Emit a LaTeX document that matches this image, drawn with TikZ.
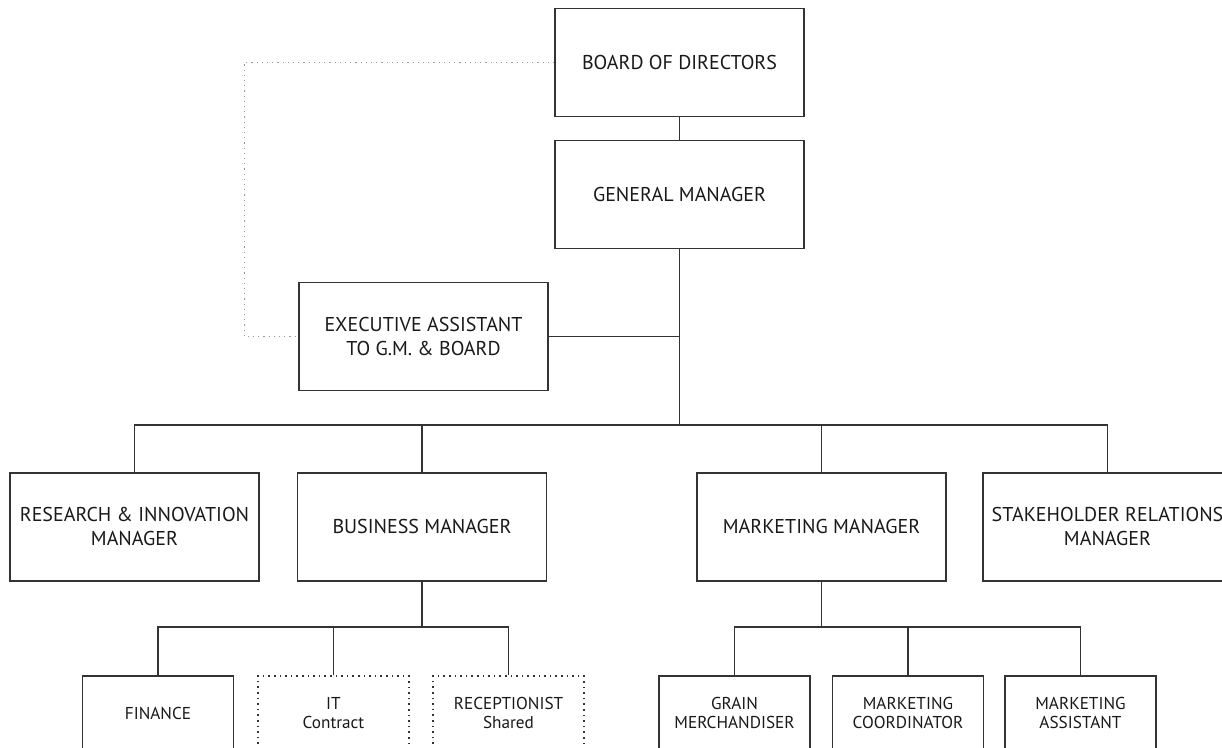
\documentclass[tikz,border=0pt]{standalone}
\usepackage{fontspec}
\setmainfont{PT Sans}
\tikzset{
  post/.style={shape=rectangle,draw=black!80,line width=0.8pt,minimum width=124.5pt,minimum height=54pt,align=center,text=black!90,font=\fontsize{10}{12}\selectfont},
  staff/.style={post,minimum width=75.5pt,minimum height=37pt,font=\fontsize{8.6}{9.5}\selectfont},
  shared/.style={staff,dotted,line width=0.6pt},
  link/.style={draw=black!80,line width=0.8pt},
  dotlink/.style={draw=black!40,line width=0.6pt,dotted}
}
\begin{document}
\begin{tikzpicture}[x=0.5pt,y=-0.5pt]
                    \useasboundingbox (0,0) rectangle (1222,748);
                    \node[post] (BD) at (679.5,62.5) {BOARD OF DIRECTORS};
                    \node[post] (GM) at (679.5,194.5) {GENERAL MANAGER};
                    \node[post] (EA) at (423.5,336.5) {EXECUTIVE ASSISTANT\\TO G.M. \& BOARD};
                    \node[post] (RI) at (134.5,527) {RESEARCH \& INNOVATION\\MANAGER};
                    \node[post] (BM) at (422,527) {BUSINESS MANAGER};
                    \node[post] (MM) at (821.5,527) {MARKETING MANAGER};
                    \node[post] (SR) at (1107.5,527) {STAKEHOLDER RELATIONS\\MANAGER};
                    \node[staff] (FI) at (158,713) {FINANCE};
                    \node[shared] (IT) at (333.5,713) {IT\\Contract};
                    \node[shared] (RC) at (508.5,713) {RECEPTIONIST\\Shared};
                    \node[staff] (GR) at (734.5,713) {GRAIN\\MERCHANDISER};
                    \node[staff] (CO) at (908,713) {MARKETING\\COORDINATOR};
                    \node[staff] (AS) at (1080.5,713) {MARKETING\\ASSISTANT};
                    \coordinate (bar) at (679.5,425);
                    \coordinate (bbar) at (422,627);
                    \coordinate (mbar) at (821.5,627);

                    \draw[link] (BD) -- (GM);
                    \draw[link] (GM) -- (bar);
                    \draw[link] (EA.east) -- (EA.east -| bar);
                    \draw[link] (RI.north) -- (RI.north |- bar) -- (SR.north |- bar) -- (SR.north);
                    \draw[link] (BM.north) -- (BM.north |- bar);
                    \draw[link] (MM.north) -- (MM.north |- bar);
                    \draw[link] (BM) -- (bbar);
                    \draw[link] (FI.north) -- (FI.north |- bbar) -- (RC.north |- bbar) -- (RC.north);
                    \draw[link] (IT.north) -- (IT.north |- bbar);
                    \draw[link] (MM) -- (mbar);
                    \draw[link] (GR.north) -- (GR.north |- mbar) -- (AS.north |- mbar) -- (AS.north);
                    \draw[link] (CO.north) -- (CO.north |- mbar);
                    \draw[dotlink] (BD.west) -- ++(-310,0) |- (EA.west);
                \end{tikzpicture}
\end{document}
